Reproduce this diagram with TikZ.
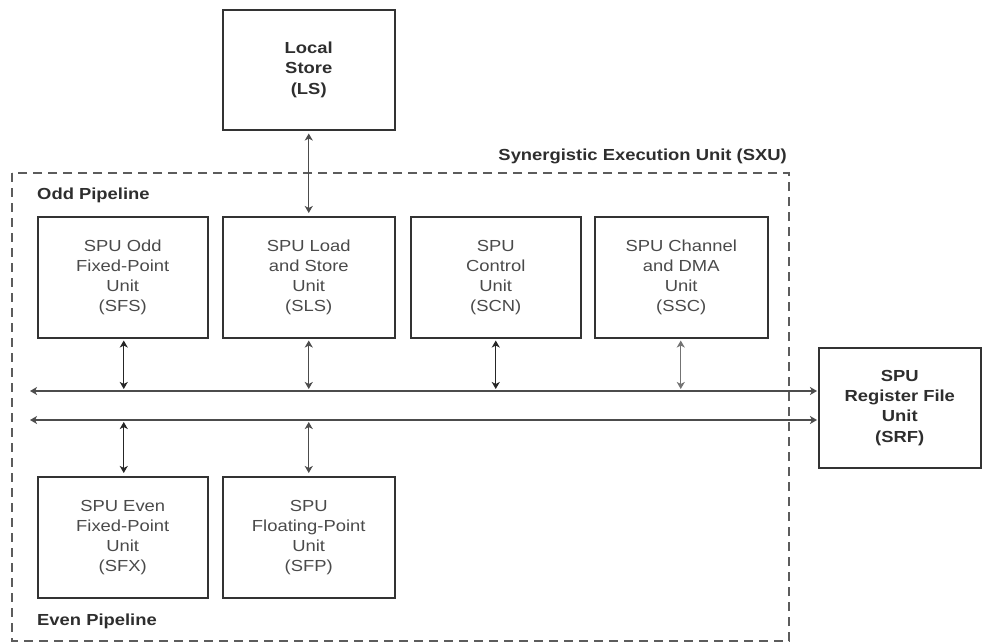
\documentclass[tikz,border=0pt]{standalone}
\usepackage{fontspec}
\setmainfont{Liberation Sans}[FakeStretch=1.15]
\usetikzlibrary{arrows.meta}
\definecolor{boxline}{HTML}{333333}
\definecolor{unittext}{HTML}{4A4A4A}
\definecolor{titletext}{HTML}{2E2E2E}
\tikzset{
  unitbox/.style={draw=boxline, line width=1.5pt, anchor=north west,
    minimum width=171pt, minimum height=121pt, inner sep=0pt,
    align=center, text=unittext, font=\fontsize{16}{20}\selectfont},
  boldbox/.style={unitbox, text=titletext, font=\fontsize{16}{20.3}\selectfont\bfseries},
  boldlabel/.style={text=titletext, font=\fontsize{16}{20}\selectfont\bfseries, inner sep=0pt},
  bothtip/.style={{Stealth[length=7pt,width=8pt,inset=2pt]}-{Stealth[length=7pt,width=8pt,inset=2pt]}},
  busline/.style={draw=black!70, line width=1.2pt},
  link/.style={draw=black!85, line width=1.4pt},
}
\begin{document}
\begin{tikzpicture}[x=1pt,y=-1pt]
\useasboundingbox (0,0) rectangle (982,643);

% Synergistic Execution Unit frame
\draw[boxline!80, line width=1.2pt, dash pattern=on 9pt off 6pt] (12,173) rectangle (789,641);
\node[boldlabel, anchor=east] (sxu) at (787,156) {Synergistic Execution Unit (SXU)};
\node[boldlabel, anchor=west] (odd) at (37,195) {Odd Pipeline};
\node[boldlabel, anchor=west] (even) at (37,621) {Even Pipeline};

% Local store
\node[boldbox, minimum width=172pt, minimum height=120pt] (LS) at (222,9) {Local\\Store\\(LS)};

% Odd pipeline units
\node[unitbox, minimum width=170pt] (SFS) at (37,216) {SPU Odd\\Fixed-Point\\Unit\\(SFS)};
\node[unitbox, minimum width=172pt] (SLS) at (222,216) {SPU Load\\and Store\\Unit\\(SLS)};
\node[unitbox, minimum width=170pt] (SCN) at (410,216) {SPU\\Control\\Unit\\(SCN)};
\node[unitbox, minimum width=173pt] (SSC) at (594,216) {SPU Channel\\and DMA\\Unit\\(SSC)};

% Even pipeline units
\node[unitbox, minimum width=170pt] (SFX) at (37,476) {SPU Even\\Fixed-Point\\Unit\\(SFX)};
\node[unitbox, minimum width=172pt] (SFP) at (222,476) {SPU\\Floating-Point\\Unit\\(SFP)};

% Register file
\node[boldbox, minimum width=162pt, minimum height=120pt] (SRF) at (818,347) {SPU\\Register File\\Unit\\(SRF)};

% Buses
\coordinate (busA) at (30,391);
\coordinate (busB) at (30,420);
\draw[busline, bothtip, shorten >=1pt] (busA) -- (busA -| SRF.west);
\draw[busline, bothtip, shorten >=1pt] (busB) -- (busB -| SRF.west);

% Local store to load/store unit
\draw[busline, bothtip, shorten <=3pt, shorten >=3pt] (LS.south -| SLS.north) -- (SLS.north);

% Odd pipeline links
\draw[link, bothtip, shorten <=2pt, shorten >=2pt] ([xshift=1pt]SFS.south) -- ([xshift=1pt]SFS.south |- busA);
\draw[busline, bothtip, shorten <=2pt, shorten >=2pt] (SLS.south) -- (SLS.south |- busA);
\draw[link, bothtip, shorten <=2pt, shorten >=2pt] (SCN.south) -- (SCN.south |- busA);
\draw[draw=black!55, line width=1.2pt, bothtip, shorten <=2pt, shorten >=2pt] ([xshift=-0.5pt]SSC.south) -- ([xshift=-0.5pt]SSC.south |- busA);

% Even pipeline links
\draw[link, bothtip, shorten <=2pt, shorten >=3pt] ([xshift=1pt]SFX.north |- busB) -- ([xshift=1pt]SFX.north);
\draw[busline, bothtip, shorten <=2pt, shorten >=3pt] (SFP.north |- busB) -- (SFP.north);
\end{tikzpicture}
\end{document}
